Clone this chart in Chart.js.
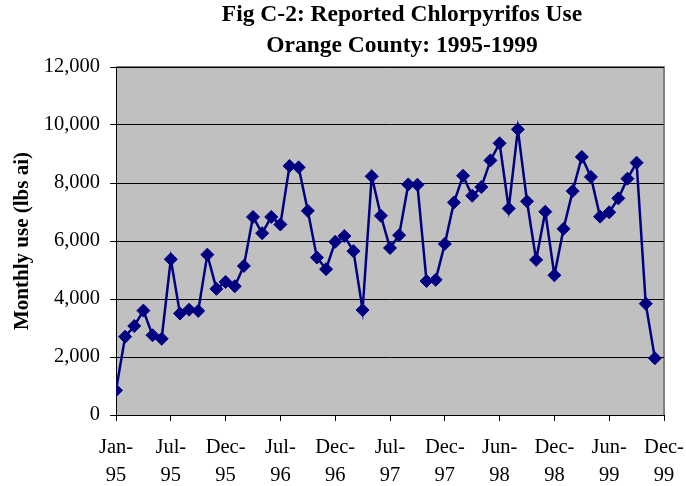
<!DOCTYPE html>
<html>
<head>
<meta charset="utf-8">
<script src="https://cdn.jsdelivr.net/npm/chart.js@4/dist/chart.umd.min.js"></script>
<style>
  html, body { margin: 0; padding: 0; background: #ffffff; }
  #wrap { width: 686px; height: 486px; }
</style>
</head>
<body>
<div id="wrap"><canvas id="c" width="686" height="486"></canvas></div>
<script>
const titleLines = ['Fig C-2: Reported Chlorpyrifos Use', 'Orange County: 1995-1999'];
const yAxisTitle = 'Monthly use (lbs ai)';

const months = [
  'Jan-95','Feb-95','Mar-95','Apr-95','May-95','Jun-95','Jul-95','Aug-95','Sep-95','Oct-95','Nov-95','Dec-95',
  'Jan-96','Feb-96','Mar-96','Apr-96','May-96','Jun-96','Jul-96','Aug-96','Sep-96','Oct-96','Nov-96','Dec-96',
  'Jan-97','Feb-97','Mar-97','Apr-97','May-97','Jun-97','Jul-97','Aug-97','Sep-97','Oct-97','Nov-97','Dec-97',
  'Jan-98','Feb-98','Mar-98','Apr-98','May-98','Jun-98','Jul-98','Aug-98','Sep-98','Oct-98','Nov-98','Dec-98',
  'Jan-99','Feb-99','Mar-99','Apr-99','May-99','Jun-99','Jul-99','Aug-99','Sep-99','Oct-99','Nov-99','Dec-99'
];

const monthlyUse = [
  850, 2700, 3070, 3600, 2750, 2630, 5370, 3500, 3630, 3590, 5530, 4350,
  4590, 4440, 5140, 6830, 6270, 6830, 6570, 8590, 8540, 7040, 5430, 5030,
  5970, 6170, 5650, 3620, 8230, 6870, 5760, 6200, 7950, 7940, 4620, 4660,
  5900, 7330, 8250, 7560, 7860, 8780, 9370, 7120, 9850, 7370, 5350, 7010,
  4820, 6420, 7720, 8900, 8210, 6840, 6990, 7470, 8150, 8700, 3840, 1960
];

const xTickLabels = [
  ['Jan-','95'], ['Jul-','95'], ['Dec-','95'], ['Jul-','96'], ['Dec-','96'], ['Jul-','97'],
  ['Dec-','97'], ['Jun-','98'], ['Dec-','98'], ['Jun-','99'], ['Dec-','99']
];

const plotBg = {
  id: 'plotBg',
  afterLayout(chart) {
    // title block is centred a little right of the plot centre in the original
    const t = chart.titleBlock;
    if (t) { t.left = 140; t.right = 664; t.width = t.right - t.left; }
  },
  beforeDraw(chart) {
    const {ctx, chartArea: a} = chart;
    ctx.save();
    ctx.fillStyle = '#C0C0C0';
    ctx.fillRect(a.left, a.top, a.right - a.left, a.bottom - a.top);
    ctx.strokeStyle = '#808080';
    ctx.lineWidth = 2;
    ctx.beginPath();
    ctx.moveTo(a.left, a.top);
    ctx.lineTo(a.right, a.top);
    ctx.lineTo(a.right, a.bottom);
    ctx.stroke();
    ctx.restore();
  }
};

const serif = "'Liberation Serif', 'Times New Roman', serif";

new Chart(document.getElementById('c'), {
  type: 'line',
  data: {
    datasets: [{
      label: 'Monthly use',
      data: monthlyUse.map((v, i) => ({x: i, y: v})),
      borderColor: '#000080',
      backgroundColor: '#000080',
      borderWidth: 2.5,
      pointStyle: 'rectRot',
      pointRadius: 6.5,
      pointBorderWidth: 1,
      pointBackgroundColor: '#000080',
      pointBorderColor: '#000080',
      tension: 0
    }]
  },
  options: {
    responsive: false,
    animation: false,
    devicePixelRatio: 1,
    layout: { padding: { left: 0, right: 22, top: 0, bottom: 0 } },
    plugins: {
      legend: { display: false },
      tooltip: { enabled: false },
      title: {
        display: true,
        fullSize: false,
        text: titleLines,
        color: '#000000',
        font: { family: serif, size: 23.5, weight: 'bold', lineHeight: '30.5px' },
        padding: { top: 0, bottom: 6 }
      }
    },
    scales: {
      x: {
        type: 'linear',
        min: 0,
        max: 60,
        afterFit(scale) { scale.height = 71; scale.paddingLeft = 0; scale.paddingRight = 0; },
        afterBuildTicks(scale) {
          scale.ticks = xTickLabels.map((_, i) => ({value: i * 6}));
        },
        ticks: {
          autoSkip: false,
          maxRotation: 0,
          minRotation: 0,
          color: '#000000',
          font: { family: serif, size: 20.5, lineHeight: 1.38 },
          padding: 12.5,
          callback: (v) => xTickLabels[Math.round(v / 6)]
        },
        grid: {
          drawOnChartArea: false,
          drawTicks: true,
          tickLength: 6,
          tickColor: '#000000',
          tickWidth: 1
        },
        border: { display: true, color: '#000000', width: 1 }
      },
      y: {
        min: 0,
        max: 12000,
        afterFit(scale) { scale.width = 116; scale.paddingTop = 0; scale.paddingBottom = 0; },
        ticks: {
          stepSize: 2000,
          color: '#000000',
          font: { family: serif, size: 20.5 },
          padding: 10,
          callback: (v) => v.toLocaleString('en-US')
        },
        grid: {
          color: '#000000',
          lineWidth: 1,
          drawTicks: true,
          tickLength: 6,
          tickColor: '#000000'
        },
        border: { display: true, color: '#000000', width: 1 },
        title: {
          display: true,
          text: yAxisTitle,
          color: '#000000',
          font: { family: serif, size: 21, weight: 'bold' },
          padding: { top: 10, bottom: 0 }
        }
      }
    }
  },
  plugins: [plotBg]
});
</script>
</body>
</html>
